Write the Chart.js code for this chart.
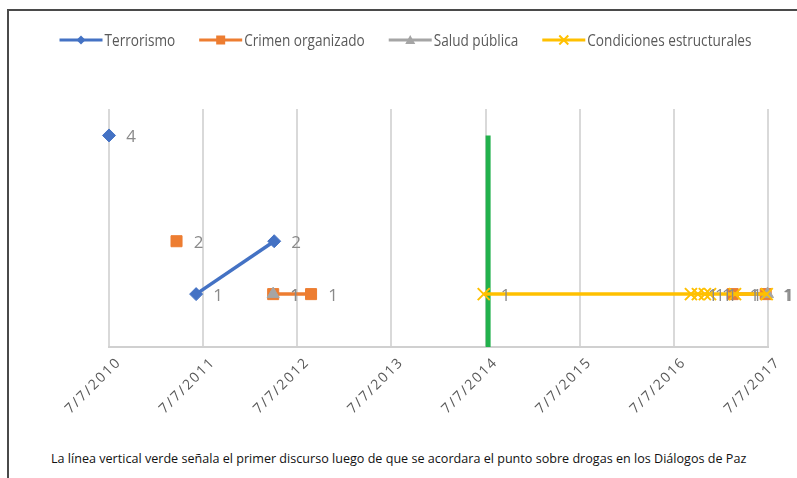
<!DOCTYPE html>
<html>
<head>
<meta charset="utf-8">
<script src="https://cdn.jsdelivr.net/npm/chart.js@4.4.0/dist/chart.umd.min.js"></script>
<style>
  body { margin: 0; background: #fff; }
  #marco { position: absolute; left: 7px; top: 9px; width: 790px; height: 469px;
           border-left: 2px solid #4a4a4a; border-top: 2px solid #4a4a4a; box-sizing: border-box; }
  #grafico { position: absolute; left: 0; top: 0; }
  #nota { position: absolute; left: 42px; top: 439px; font: 12.5px 'Open Sans'; color: #111;
          white-space: nowrap; transform-origin: 0 0; }
</style>
</head>
<body>
<div id="marco">
  <canvas id="grafico" width="788" height="406"></canvas>
  <div id="nota">La línea vertical verde señala el primer discurso luego de que se acordara el punto sobre drogas en los Diálogos de Paz</div>
</div>
<script>
// ticks del eje x
const anios = [2010, 2011, 2012, 2013, 2014, 2015, 2016, 2017];
const etiquetasFecha = ['7/7/2010', '7/7/2011', '7/7/2012', '7/7/2013', '7/7/2014', '7/7/2015', '7/7/2016', '7/7/2017'];

// series (null = hueco en la línea)
const terrorismoFechas = ['2010-07-07', '2010-12-01', '2011-06-10', '2012-04-08'];
const terrorismoValores = [4, null, 1, 2];

const crimenFechas = ['2011-03-26', '2011-09-01', '2012-04-04', '2012-08-29', '2014-01-01', '2017-02-20', '2017-06-28'];
const crimenValores = [2, null, 1, 1, null, 1, 1];

const saludFechas = ['2012-04-04', '2014-01-01', '2017-07-05'];
const saludValores = [1, null, 1];

const condicionesFechas = ['2014-06-30', '2016-09-11', '2016-10-08', '2016-11-04', '2016-11-24', '2017-03-01', '2017-07-02'];
const condicionesValores = [1, 1, 1, 1, 1, 1, 1];

// línea vertical verde
const verdeFechas = ['2014-07-17', '2014-07-17'];
const verdeValores = [0, 4];

const azul = '#4472c4', naranja = '#ed7d31', gris = '#a5a5a5', amarillo = '#ffc000', verde = '#22b14c';

function dia(s) {
  const [a, m, d] = s.split('-').map(Number);
  return Date.UTC(a, m - 1, d) / 86400000;
}
function puntos(fechas, valores) {
  return fechas.map((f, i) => ({ x: dia(f), y: valores[i] }));
}

function marca(ctx, tipo, x, y, r, color) {
  ctx.fillStyle = color;
  ctx.strokeStyle = color;
  ctx.lineWidth = 2;
  ctx.beginPath();
  if (tipo === 'rectRot') {
    ctx.moveTo(x, y - r); ctx.lineTo(x + r, y); ctx.lineTo(x, y + r); ctx.lineTo(x - r, y);
    ctx.closePath(); ctx.fill();
  } else if (tipo === 'rect') {
    ctx.rect(x - r, y - r, 2 * r, 2 * r); ctx.fill();
  } else if (tipo === 'triangle') {
    ctx.moveTo(x, y - r); ctx.lineTo(x + r, y + r * 0.8); ctx.lineTo(x - r, y + r * 0.8);
    ctx.closePath(); ctx.fill();
  } else {
    ctx.moveTo(x - r, y - r); ctx.lineTo(x + r, y + r);
    ctx.moveTo(x + r, y - r); ctx.lineTo(x - r, y + r);
    ctx.stroke();
  }
}

// leyenda dibujada a mano (línea + marcador + texto estrecho)
const leyenda = {
  id: 'leyenda',
  afterDraw(chart) {
    const ctx = chart.ctx;
    const items = chart.data.datasets.filter(d => d.enLeyenda);
    ctx.save();
    ctx.font = '16px "Open Sans"';
    const escala = 0.85, linea = 43, hueco = 24;
    const anchos = items.map(d => ctx.measureText(d.label).width * escala);
    const total = anchos.reduce((s, w) => s + w + linea + 2, 0) + hueco * (items.length - 1);
    let x = 396.5 - total / 2;
    const y = 29;
    items.forEach((d, i) => {
      ctx.strokeStyle = d.borderColor;
      ctx.lineWidth = 3;
      ctx.beginPath(); ctx.moveTo(x, y); ctx.lineTo(x + linea, y); ctx.stroke();
      marca(ctx, d.pointStyle, x + linea / 2, y, d.leyendaRadio, d.borderColor);
      ctx.save();
      ctx.translate(x + linea + 2, y);
      ctx.scale(escala, 1);
      ctx.fillStyle = '#595959';
      ctx.textBaseline = 'middle';
      ctx.fillText(d.label, 0, 1);
      ctx.restore();
      x += linea + 2 + anchos[i] + hueco;
    });
    ctx.restore();
  }
};

// etiquetas de datos a la derecha de cada punto
const etiquetasDatos = {
  id: 'etiquetasDatos',
  afterDatasetsDraw(chart) {
    const ctx = chart.ctx;
    ctx.save();
    ctx.font = '17px "Open Sans"';
    ctx.fillStyle = '#8a8a8a';
    ctx.textAlign = 'center';
    ctx.textBaseline = 'middle';
    chart.data.datasets.forEach((ds, i) => {
      if (!ds.conEtiquetas) return;
      chart.getDatasetMeta(i).data.forEach((el, j) => {
        const v = ds.data[j].y;
        if (v === null) return;
        ctx.fillText(String(v), el.x + 22, el.y + 2);
      });
    });
    ctx.restore();
  }
};

// espaciado de letras sólo para las fechas del eje
const espaciado = {
  id: 'espaciado',
  beforeDraw(chart) { chart.ctx.letterSpacing = '1.8px'; },
  beforeDatasetsDraw(chart) { chart.ctx.letterSpacing = '0px'; }
};

new Chart(document.getElementById('grafico').getContext('2d'), {
  type: 'line',
  data: {
    datasets: [
      { label: 'Terrorismo', data: puntos(terrorismoFechas, terrorismoValores),
        borderColor: azul, backgroundColor: azul, borderWidth: 3.5,
        pointStyle: 'rectRot', pointRadius: 6.5, pointBorderWidth: 1,
        order: 4, enLeyenda: true, conEtiquetas: true, leyendaRadio: 4.5 },
      { label: 'Crimen organizado', data: puntos(crimenFechas, crimenValores),
        borderColor: naranja, backgroundColor: naranja, borderWidth: 3.5,
        pointStyle: 'rect', pointRadius: 7.8, pointBorderWidth: 1,
        order: 3, enLeyenda: true, conEtiquetas: true, leyendaRadio: 4.5 },
      { label: 'Salud pública', data: puntos(saludFechas, saludValores),
        borderColor: gris, backgroundColor: gris, borderWidth: 3.5,
        pointStyle: 'triangle', pointRadius: 7, pointBorderWidth: 1,
        order: 2, enLeyenda: true, conEtiquetas: true, leyendaRadio: 5 },
      { label: 'Condiciones estructurales', data: puntos(condicionesFechas, condicionesValores),
        borderColor: amarillo, backgroundColor: amarillo, borderWidth: 3.5,
        pointStyle: 'crossRot', pointRadius: 8.5, pointBorderWidth: 2,
        order: 1, enLeyenda: true, conEtiquetas: true, leyendaRadio: 4.5 },
      { label: '', data: puntos(verdeFechas, verdeValores),
        borderColor: verde, borderWidth: 5, pointRadius: 0, order: 5 }
    ]
  },
  options: {
    responsive: false,
    animation: false,
    events: [],
    clip: false,
    layout: { padding: { left: 100, right: 29, top: 98, bottom: 0 } },
    plugins: { legend: { display: false }, tooltip: { enabled: false } },
    scales: {
      x: {
        type: 'linear',
        min: dia('2010-07-07'),
        max: dia('2017-07-07'),
        afterBuildTicks: s => { s.ticks = anios.map(a => ({ value: Date.UTC(a, 6, 7) / 86400000 })); },
        afterFit: s => { s.height = 70; },
        grid: { color: '#d9d9d9', lineWidth: 2, drawTicks: false },
        border: { color: '#d0d0d0', width: 2 },
        ticks: {
          callback: (v, i) => etiquetasFecha[i],
          minRotation: 45, maxRotation: 45,
          padding: 7, labelOffset: 10,
          color: '#595959',
          font: { family: 'Open Sans', size: 14 }
        }
      },
      y: { display: false, min: 0, max: 4.5 }
    }
  },
  plugins: [leyenda, etiquetasDatos, espaciado]
});

// ajustar la nota al ancho de la original
const nota = document.getElementById('nota');
nota.style.transform = 'scaleX(' + (695 / nota.scrollWidth) + ')';
</script>
</body>
</html>
